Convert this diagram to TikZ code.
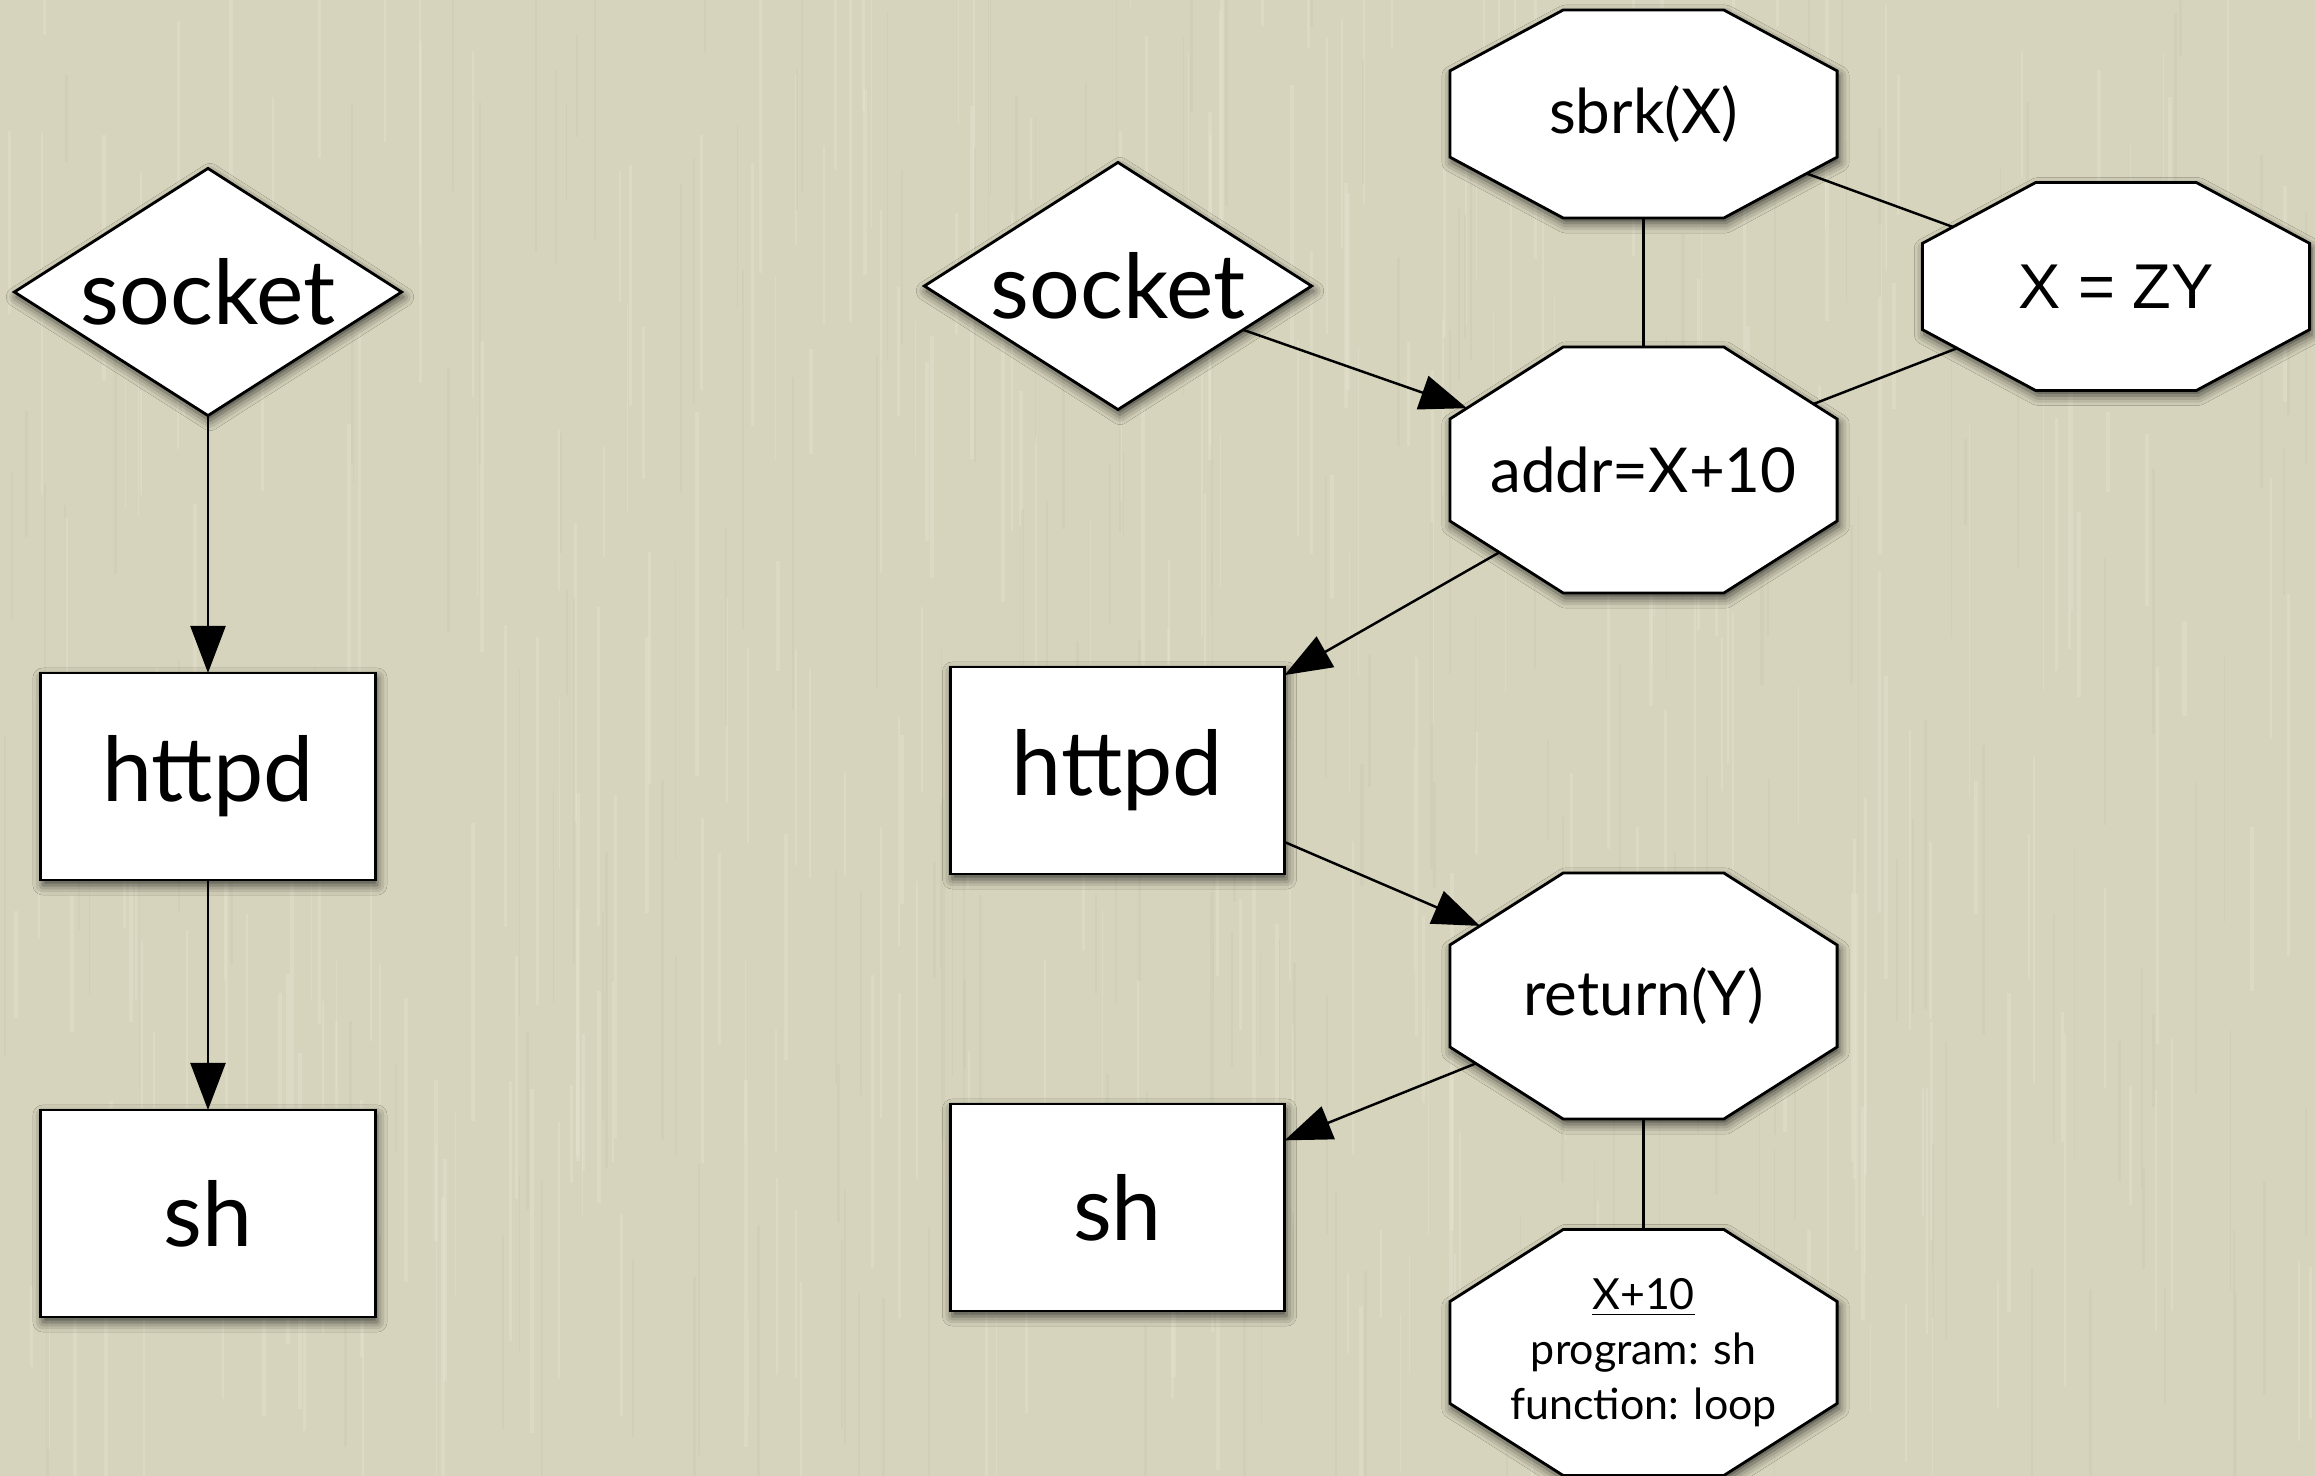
\documentclass[tikz,border=0pt]{standalone}
\usepackage{fontspec}
\setmainfont{Lato}
\newfontfamily\arialfont{Liberation Sans}
\usetikzlibrary{shapes.geometric,arrows.meta,shadows.blur}

\makeatletter
\newdimen\octL \newdimen\octR \newdimen\octB \newdimen\octT
\newdimen\octCX \newdimen\octCY
\newdimen\octLi \newdimen\octRi \newdimen\octBi \newdimen\octTi
\pgfdeclareshape{octbox}{%
  \inheritsavedanchors[from=rectangle]%
  \inheritanchor[from=rectangle]{center}%
  \inheritanchor[from=rectangle]{north}%
  \inheritanchor[from=rectangle]{south}%
  \inheritanchor[from=rectangle]{east}%
  \inheritanchor[from=rectangle]{west}%
  \inheritanchor[from=rectangle]{mid}%
  \inheritanchor[from=rectangle]{base}%
  \backgroundpath{%
    \southwest \octL=\pgf@x \octB=\pgf@y
    \northeast \octR=\pgf@x \octT=\pgf@y
    \octCX=\octR \advance\octCX by-\octL \octCX=0.29289\octCX
    \octCY=\octT \advance\octCY by-\octB \octCY=0.29289\octCY
    \octLi=\octL \advance\octLi by\octCX
    \octRi=\octR \advance\octRi by-\octCX
    \octBi=\octB \advance\octBi by\octCY
    \octTi=\octT \advance\octTi by-\octCY
    \pgfpathmoveto{\pgfqpoint{\octLi}{\octB}}%
    \pgfpathlineto{\pgfqpoint{\octRi}{\octB}}%
    \pgfpathlineto{\pgfqpoint{\octR}{\octBi}}%
    \pgfpathlineto{\pgfqpoint{\octR}{\octTi}}%
    \pgfpathlineto{\pgfqpoint{\octRi}{\octT}}%
    \pgfpathlineto{\pgfqpoint{\octLi}{\octT}}%
    \pgfpathlineto{\pgfqpoint{\octL}{\octTi}}%
    \pgfpathlineto{\pgfqpoint{\octL}{\octBi}}%
    \pgfpathclose
  }%
  \anchorborder{%
    \edef\oct@dx{\pgf@sys@tonumber\pgf@x}%
    \edef\oct@dy{\pgf@sys@tonumber\pgf@y}%
    \southwest \octL=\pgf@x \octB=\pgf@y
    \northeast \octR=\pgf@x \octT=\pgf@y
    \octCX=\octR \advance\octCX by\octL \octCX=.5\octCX
    \octCY=\octT \advance\octCY by\octB \octCY=.5\octCY
    \octLi=\octR \advance\octLi by-\octL \octLi=.5\octLi
    \octBi=\octT \advance\octBi by-\octB \octBi=.5\octBi
    \edef\oct@a{\pgf@sys@tonumber\octLi}%
    \edef\oct@b{\pgf@sys@tonumber\octBi}%
    \pgfmathparse{max(abs(\oct@dx)/\oct@a,abs(\oct@dy)/\oct@b,(abs(\oct@dx)/\oct@a+abs(\oct@dy)/\oct@b)/1.41421)}%
    \let\oct@m\pgfmathresult
    \pgfmathparse{\oct@dx/\oct@m}\let\oct@rx\pgfmathresult
    \pgfmathparse{\oct@dy/\oct@m}\let\oct@ry\pgfmathresult
    \pgf@x=\oct@rx pt\relax \advance\pgf@x by\octCX
    \pgf@y=\oct@ry pt\relax \advance\pgf@y by\octCY
  }%
}
\makeatother

\definecolor{bgcol}{RGB}{214,212,188}
\definecolor{streaklight}{RGB}{230,228,208}
\definecolor{streakdark}{RGB}{200,198,174}
\newcommand{\bigfnt}{\fontsize{25.5}{30}\selectfont}
\newcommand{\midfnt}{\fontsize{17.6}{22}\selectfont}
\newcommand{\xzyfnt}{\arialfont\fontsize{18}{22}\selectfont}
\newcommand{\smlfnt}{\fontsize{12.2}{15.6}\selectfont}

\tikzset{
  basenode/.style={draw=black, line width=0.8pt, fill=white, inner sep=0pt, outer sep=0pt,
    blur shadow={shadow xshift=0.02cm, shadow yshift=-0.05cm, shadow blur radius=0.1cm, shadow opacity=70}},
  dia/.style={basenode, diamond, aspect=1.57, minimum width=3.87cm, minimum height=2.47cm, font=\bigfnt},
  boxnode/.style={basenode, rectangle, minimum width=3.34cm, minimum height=2.07cm, font=\bigfnt},
  oct/.style={basenode, shape=octbox, minimum width=3.87cm, font=\midfnt},
  octtall/.style={oct, minimum height=2.46cm},
  octshort/.style={oct, minimum height=2.08cm},
  conn/.style={line width=0.7pt, draw=black},
  arr/.style={conn, -{Triangle[length=0.47cm,width=0.35cm]}},
}

\begin{document}
\begin{tikzpicture}[x=0.01cm,y=-0.01cm]
\fill[bgcol] (0,0) rectangle (2315,1476);
\useasboundingbox (0,0) rectangle (2315,1476);
% paper texture: faint vertical streaks
\pgfmathsetseed{7}
\begin{scope}
\clip (0,0) rectangle (2315,1476);
\foreach \i in {1,...,320}{
  \pgfmathsetmacro{\sx}{2315*rnd}
  \pgfmathsetmacro{\sy}{1476*rnd-150}
  \pgfmathsetmacro{\sl}{80+300*rnd}
  \pgfmathsetmacro{\sw}{0.3+0.9*rnd}
  \draw[streaklight, opacity=0.4, line width=\sw pt] (\sx,\sy) -- ++(0,\sl);
}
\foreach \i in {1,...,200}{
  \pgfmathsetmacro{\sx}{2315*rnd}
  \pgfmathsetmacro{\sy}{1476*rnd-150}
  \pgfmathsetmacro{\sl}{80+300*rnd}
  \pgfmathsetmacro{\sw}{0.3+0.6*rnd}
  \draw[streakdark, opacity=0.3, line width=\sw pt] (\sx,\sy) -- ++(0,\sl);
}
\end{scope}

% left column
\node[dia] (sockL) at (208,292) {socket};
\node[boxnode] (httpdL) at (208,776.5) {httpd};
\node[boxnode] (shL) at (208,1213.5) {sh};

% right graph
\node[dia] (sockR) at (1118,286) {socket};
\node[octshort] (sbrk) at (1643.5,114) {sbrk(X)};
\node[octshort, font=\xzyfnt] (xzy) at (2116,286.5) {X = ZY};
\node[octtall] (addr) at (1643.5,470) {addr=X+10};
\node[boxnode] (httpdR) at (1117.5,770.5) {httpd};
\node[octtall] (ret) at (1643.5,996) {return(Y)};
\node[boxnode] (shR) at (1117.5,1207.5) {sh};
\node[octtall, font=\smlfnt, align=center] (info) at (1643.5,1352.5) {\underline{X+10}\\program: sh\\function: loop};

% connectors
\draw[arr] (sockL) -- (httpdL);
\draw[arr] (httpdL) -- (shL);
\draw[arr] (sockR) -- (addr);
\draw[conn] (sbrk) -- (addr);
\draw[conn] (sbrk) -- (xzy);
\draw[conn] (addr) -- (xzy);
\draw[arr] (addr) -- (httpdR);
\draw[arr] (httpdR) -- (ret);
\draw[arr] (ret) -- (shR);
\draw[conn] (ret) -- (info);
\end{tikzpicture}
\end{document}
